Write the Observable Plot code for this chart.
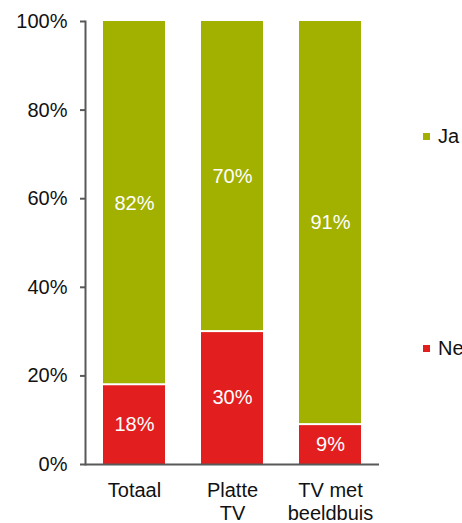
<!DOCTYPE html>
<html>
<head>
<meta charset="utf-8">
<script src="https://cdn.jsdelivr.net/npm/d3@7"></script>
<script src="https://cdn.jsdelivr.net/npm/@observablehq/plot@0.6"></script>
<style>
  html, body { margin: 0; padding: 0; background: #fff; overflow: hidden; }
  #wrap { position: relative; width: 462px; height: 523px; font-family: "Liberation Sans", Arial, sans-serif; }
  .leg { position: absolute; display: flex; align-items: center; font-size: 20px; color: #111; white-space: nowrap; }
  .sw { width: 7px; height: 7px; margin-right: 8px; }
</style>
</head>
<body>
<div id="wrap"></div>
<script>
const categories = ["Totaal", "Platte\nTV", "TV met\nbeeldbuis"];
const ja = [82, 70, 91];
const nee = [18, 30, 9];
const seriesNames = ["Ja", "Nee"];
const yTicks = [0, 20, 40, 60, 80, 100];

const green = "#a2b000";
const red = "#e21e1e";
const axisColor = "#595959";

const rows = categories.map((c, i) => ({cat: c, ja: ja[i], nee: nee[i]}));

const chart = Plot.plot({
  width: 462,
  height: 523,
  marginLeft: 85,
  marginRight: 83,
  marginTop: 21,
  marginBottom: 59,
  style: {fontFamily: "'Liberation Sans', Arial, sans-serif", fontSize: "20px", color: "#111", background: "#fff"},
  x: {type: "band", domain: categories, paddingInner: 0.367, paddingOuter: 0.1835},
  y: {domain: [0, 100]},
  marks: [
    Plot.barY(rows, {x: "cat", y1: 0, y2: "nee", fill: red, insetTop: 1}),
    Plot.barY(rows, {x: "cat", y1: "nee", y2: d => d.nee + d.ja, fill: green, insetBottom: 1}),
    Plot.text(rows, {x: "cat", y: d => d.nee / 2, text: d => d.nee + "%", fill: "white", fontSize: 20}),
    Plot.text(rows, {x: "cat", y: d => d.nee + d.ja / 2, text: d => d.ja + "%", fill: "white", fontSize: 20}),
    Plot.axisY({ticks: yTicks, tickFormat: d => d + "%", tickSize: 5, tickPadding: 13, stroke: axisColor, strokeWidth: 2, fontSize: 20, label: null}),
    Plot.axisX({tickSize: 0, tickPadding: 16, lineHeight: 1.15, fontSize: 20, label: null}),
    Plot.frame({anchor: "left", stroke: axisColor, strokeWidth: 2}),
    Plot.ruleY([0], {stroke: axisColor, strokeWidth: 2})
  ]
});

const wrap = document.getElementById("wrap");
wrap.appendChild(chart);

const legendPos = [{top: 125, color: green}, {top: 337, color: red}];
seriesNames.forEach((name, i) => {
  const d = document.createElement("div");
  d.className = "leg";
  d.style.left = "423px";
  d.style.top = legendPos[i].top + "px";
  const sw = document.createElement("span");
  sw.className = "sw";
  sw.style.background = legendPos[i].color;
  const t = document.createElement("span");
  t.textContent = name;
  d.appendChild(sw);
  d.appendChild(t);
  wrap.appendChild(d);
});
</script>
</body>
</html>
